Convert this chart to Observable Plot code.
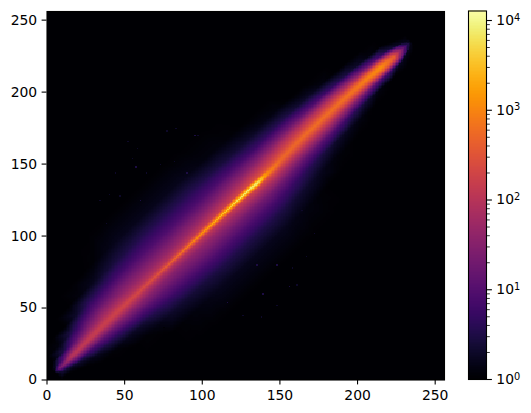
<!DOCTYPE html>
<html><head><meta charset="utf-8">
<script src="https://cdn.jsdelivr.net/npm/d3@7"></script>
<script src="https://cdn.jsdelivr.net/npm/@observablehq/plot@0.6"></script>
<style>
html,body{margin:0;padding:0;background:#fff}
#c{position:relative;width:531px;height:413px;overflow:hidden}
#c svg{position:absolute;left:0;top:0;font-family:"DejaVu Sans",sans-serif;background:none}
</style></head><body><div id="c"></div>
<script>
// Histogram: log10(count) along the ridge of the cloud.
const stations=[8,16,24,32,40,48,56,64,72,80,88,96,104,112,120,128,136,144,152,160,168,176,184,192,200,208,216,224,232];
const ridge=[0,.5,1,1.5,2,2,2,2,2,2,2,2,2,2,2,2,1.5,1.5,2.5,3.5,4,4,4,4,3.5,3,2,1,1];
const offsets=[-50,-36,-25,-16,-9,-4,-1.5,0,1.5,4,9,16,25,36,50];
const logCounts=[
[0,0,0,0,0,.4,1,1.3,1,.4,0,0,0,0,0],
[0,0,0,0,.3,1.3,1.85,2,1.85,1.4,.5,.1,0,0,0],
[0,0,0,.2,.8,1.6,2,2.1,2,1.7,1.1,.5,0,0,0],
[0,0,.05,.5,1.1,1.75,2.1,2.15,2.1,1.85,1.4,.9,.3,0,0],
[0,0,.2,.7,1.3,1.9,2.15,2.2,2.15,1.95,1.6,1.1,.6,.1,0],
[0,.05,.3,.9,1.45,1.95,2.2,2.25,2.2,2,1.65,1.2,.7,.2,0],
[0,.15,.5,1,1.5,1.95,2.2,2.3,2.2,1.95,1.65,1.3,.8,.35,.05],
[.05,.3,.65,1.1,1.5,1.9,2.2,2.35,2.2,1.95,1.65,1.3,.85,.45,.15],
[.1,.35,.75,1.15,1.5,1.9,2.25,2.45,2.25,1.95,1.65,1.3,.9,.5,.2],
[.15,.4,.8,1.2,1.5,1.9,2.3,2.6,2.3,1.95,1.65,1.3,.9,.55,.2],
[.2,.45,.85,1.25,1.55,1.95,2.4,2.8,2.4,2,1.65,1.3,.9,.55,.2],
[.2,.5,.9,1.3,1.6,2,2.55,3,2.55,2.05,1.7,1.35,.9,.55,.2],
[.2,.5,.9,1.3,1.65,2.05,2.7,3.2,2.7,2.1,1.75,1.35,.9,.55,.2],
[.2,.5,.9,1.3,1.7,2.1,2.85,3.45,2.85,2.15,1.8,1.35,.9,.55,.2],
[.2,.5,.9,1.3,1.75,2.15,3.05,3.65,3.05,2.2,1.85,1.4,.9,.5,.15],
[.2,.5,.9,1.3,1.8,2.2,3.25,3.9,3.25,2.3,1.9,1.45,.9,.45,.1],
[.15,.45,.85,1.3,1.8,2.3,3.45,4.05,3.45,2.4,2,1.45,.9,.4,.1],
[.1,.35,.75,1.25,1.85,2.35,2.8,3,2.8,2.4,2,1.45,.8,.35,.05],
[.05,.3,.65,1.2,1.8,2.35,2.62,2.72,2.62,2.4,2,1.4,.7,.25,0],
[0,.2,.55,1.15,1.85,2.4,2.62,2.72,2.62,2.4,2,1.3,.6,.15,0],
[0,.1,.45,1.1,1.85,2.4,2.65,2.75,2.65,2.4,1.95,1.2,.5,.1,0],
[0,.05,.3,1,1.85,2.42,2.68,2.77,2.68,2.42,1.95,1.05,.35,0,0],
[0,0,.2,.85,1.75,2.42,2.68,2.77,2.68,2.42,1.9,.9,.25,0,0],
[0,0,.1,.6,1.6,2.42,2.7,2.8,2.7,2.42,1.8,.7,.1,0,0],
[0,0,0,.35,1.4,2.42,2.75,2.85,2.75,2.42,1.6,.5,0,0,0],
[0,0,0,.1,1.1,2.45,2.85,2.97,2.85,2.45,1.3,.3,0,0,0],
[0,0,0,0,.8,2.55,2.97,3.08,2.97,2.55,1,.1,0,0,0],
[0,0,0,0,.2,2,2.5,2.6,2.5,2,.4,0,0,0,0],
[0,0,0,0,0,.2,.5,.7,.5,.2,0,0,0,0,0]
];
// Isolated bins outside the solid cloud.
const strayX=[83,77,95,97,52,58,55,57,44,64,82,90,73,34,40,47,60,38,156,148,161,139,126,148,167,164,172,138,158,135,116];
const strayY=[174,172,169,169,165,160,153,147,143,143,151,143,149,124,128,127,124,108,64,79,65,59,44,51,85,117,101,43,77,79,53];
const strayLog=[.3,.3,.48,.3,.3,.3,.3,.48,.3,.3,.3,.48,.3,.3,.3,.3,.48,.3,.48,.48,.3,.48,.3,.3,.3,.3,.3,.3,.3,.48,.48];
const axisTicks=[0,50,100,150,200,250];
const barMajor=[1,10,100,1000,10000];
const barMinor=[2,3,4,5,6,7,8,9,20,30,40,50,60,70,80,90,200,300,400,500,600,700,800,900,2000,3000,4000,5000,6000,7000,8000,9000];
const maxLog=4.106;

// Sample table in x/y: a lattice running along the ridge, with empty rows and columns all round.
const samples=[];
const at=(t,d,v)=>samples.push({x:t-d/2,y:t+d/2,v});
stations.forEach((t,i)=>{
  offsets.forEach((o,j)=>at(t,ridge[i]+o,logCounts[i][j]));
  at(t,ridge[i]-75,0);at(t,ridge[i]+75,0);
});
for(const o of [-75,...offsets,75]){at(5,o,0);at(235,o,0);}
const strays=strayX.map((x,i)=>({x,y:strayY[i],v:strayLog[i]}));

const font={fontFamily:"DejaVu Sans",fontSize:"13.9px",color:"#000",background:"none"};
const main=Plot.plot({
  width:531,height:413,marginLeft:46.5,marginRight:87,marginTop:11,marginBottom:33.5,
  style:font,
  x:{domain:[0,256]},y:{domain:[0,256]},
  color:{type:"linear",scheme:"inferno",domain:[0,maxLog]},
  marks:[
    Plot.frame({fill:"#000004"}),
    Plot.raster(samples,{x:"x",y:"y",fill:"v",x1:0,x2:256,y1:0,y2:256,width:256,height:256,interpolate:"barycentric",imageRendering:"pixelated"}),
    Plot.rect(strays,{x1:"x",x2:d=>d.x+1,y1:"y",y2:d=>d.y+1,fill:"v",shapeRendering:"crispEdges"}),
    Plot.frame({stroke:"#000",strokeWidth:1.1}),
    Plot.axisX({ticks:axisTicks,label:null,tickSize:4.9,tickPadding:4.9,stroke:"#000",strokeWidth:1.1}),
    Plot.axisY({ticks:axisTicks,label:null,tickSize:4.9,tickPadding:4.9,stroke:"#000",strokeWidth:1.1})
  ]
});
document.getElementById("c").append(main);

const levels=d3.range(0,257).map(i=>i/256*maxLog);
const bar=Plot.plot({
  width:531,height:413,marginLeft:468,marginRight:45,marginTop:10.5,marginBottom:34,
  style:font,
  x:{domain:[0,1],axis:null},
  y:{type:"log",domain:[1,Math.pow(10,maxLog)]},
  color:{type:"linear",scheme:"inferno",domain:[0,maxLog]},
  marks:[
    Plot.rect(levels,{x1:0,x2:1,y1:d=>Math.pow(10,d),y2:d=>Math.pow(10,d+maxLog/256*2),fill:d=>d,clip:true,shapeRendering:"crispEdges"}),
    Plot.frame({stroke:"#000",strokeWidth:1.1}),
    Plot.axisY(barMajor,{y:d=>d,anchor:"right",label:null,tickSize:4.9,tickPadding:4.9,strokeWidth:1.1,tickFormat:d=>"10|"+Math.round(Math.log10(d))}),
    Plot.axisY(barMinor,{y:d=>d,anchor:"right",label:null,tickSize:2.8,strokeWidth:0.8,tickFormat:()=>""})
  ]
});
document.getElementById("c").append(bar);
// Raise the exponent of each colour-bar label, keeping it as real text.
d3.select(bar).selectAll("text").each(function(){
  const tgt=this.querySelector("tspan")||this;
  const s=tgt.textContent;
  if(!s.includes("|"))return;
  const [base,exp]=s.split("|");
  tgt.textContent=base;
  const sup=document.createElementNS("http://www.w3.org/2000/svg","tspan");
  sup.setAttribute("dy","-0.45em");sup.setAttribute("font-size","9.8px");
  sup.textContent=exp;
  this.appendChild(sup);
});
</script></body></html>
